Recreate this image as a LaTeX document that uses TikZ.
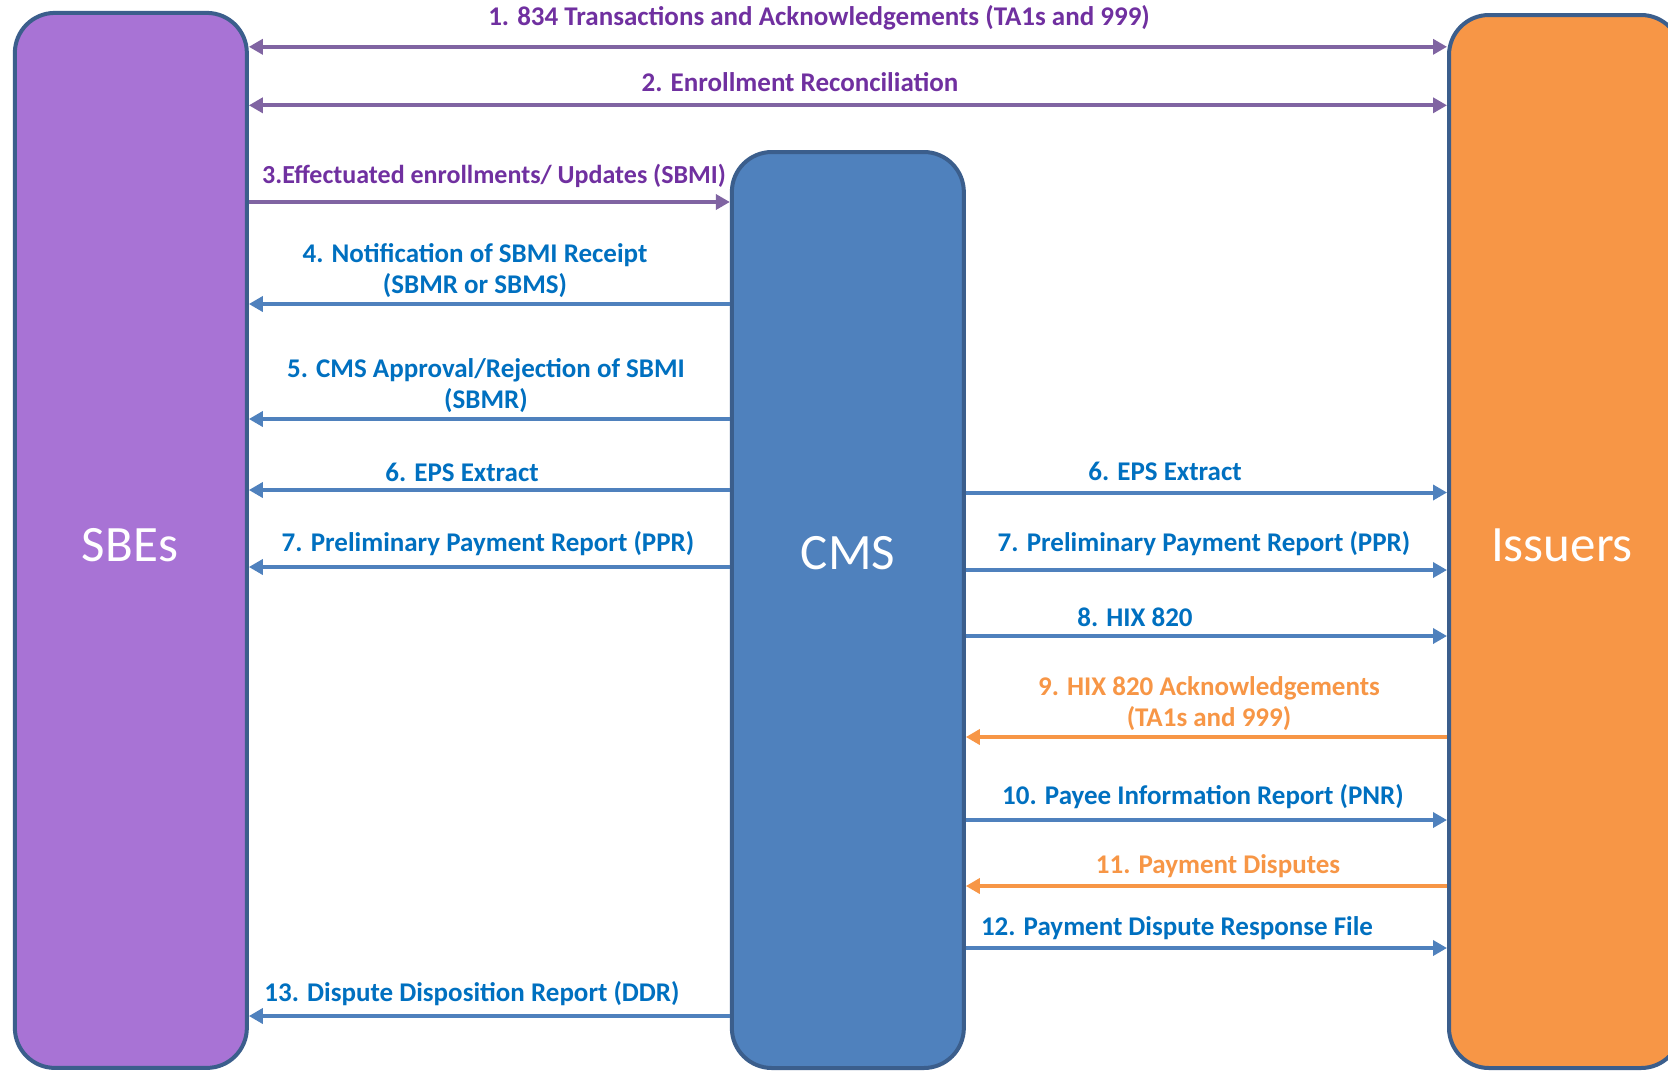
\documentclass[tikz,border=0pt]{standalone}
\usepackage{fontspec}
\setmainfont{Carlito}
\usetikzlibrary{arrows.meta}
\definecolor{sbefill}{HTML}{A873D5}
\definecolor{boxborder}{HTML}{3B5E8C}
\definecolor{cmsfill}{HTML}{4F81BD}
\definecolor{issfill}{HTML}{F79646}
\definecolor{purparrow}{HTML}{8064A2}
\definecolor{purptext}{HTML}{7030A0}
\definecolor{bluetext}{HTML}{0070C0}
\definecolor{bluearrow}{HTML}{4F81BD}
\definecolor{orangec}{HTML}{F79646}
\begin{document}
\begin{tikzpicture}[x=1pt,y=-1pt,
  box/.style={draw=boxborder,line width=4pt,rounded corners=40pt,inner sep=0pt},
  boxtext/.style={text=white,font=\fontsize{51}{57}\selectfont},
  lbl/.style={font=\bfseries\fontsize{27}{31}\selectfont,align=center,inner sep=0pt},
  arr/.style={line width=4pt,-{Triangle[length=14pt,width=15pt]}},
  darr/.style={line width=4pt,{Triangle[length=14pt,width=15pt]}-{Triangle[length=14pt,width=15pt]}},
  purp/.style={draw=purparrow},
  blu/.style={draw=bluearrow},
  ora/.style={draw=orangec}]
\useasboundingbox (0,0) rectangle (1668,1072);
\clip (0,0) rectangle (1668,1072);
\fill[white] (0,0) rectangle (1668,1072);

\node[box,fill=sbefill,minimum width=232pt,minimum height=1055pt] (sbe) at (130.85,540.4) {};
\node[box,fill=cmsfill,minimum width=232pt,minimum height=916pt] (cms) at (847.85,610) {};
\node[box,fill=issfill,minimum width=232pt,minimum height=1053pt] (iss) at (1565,541.5) {};

\node[boxtext] (sbet) at (130,545) {SBEs};
\node[boxtext] (cmst) at (848,553) {CMS};
\node[boxtext] (isst) at (1562,545) {Issuers};

% y levels
\foreach \n/\y in {a/46.8,b/105.3,c/202,d/304,e/419,f/490,g/492.5,h/567,i/570,j/636,k/737,l/820,m/886,n/948,o/1016}
  \coordinate (y\n) at (0,\y);

\draw[darr,purp] (sbe.east |- ya) -- (iss.west |- ya);
\draw[darr,purp] (sbe.east |- yb) -- (iss.west |- yb);
\draw[arr,purp] (sbe.east |- yc) -- (cms.west |- yc);
\draw[arr,blu] (cms.west |- yd) -- (sbe.east |- yd);
\draw[arr,blu] (cms.west |- ye) -- (sbe.east |- ye);
\draw[arr,blu] (cms.west |- yf) -- (sbe.east |- yf);
\draw[arr,blu] (cms.east |- yg) -- (iss.west |- yg);
\draw[arr,blu] (cms.west |- yh) -- (sbe.east |- yh);
\draw[arr,blu] (cms.east |- yi) -- (iss.west |- yi);
\draw[arr,blu] (cms.east |- yj) -- (iss.west |- yj);
\draw[arr,ora] (iss.west |- yk) -- (cms.east |- yk);
\draw[arr,blu] (cms.east |- yl) -- (iss.west |- yl);
\draw[arr,ora] (iss.west |- ym) -- (cms.east |- ym);
\draw[arr,blu] (cms.east |- yn) -- (iss.west |- yn);
\draw[arr,blu] (cms.west |- yo) -- (sbe.east |- yo);

\node[lbl,text=purptext] (l1) at (819,18) {1. 834 Transactions and Acknowledgements (TA1s and 999)};
\node[lbl,text=purptext] (l2) at (800,82) {2. Enrollment Reconciliation};
\node[lbl,text=purptext,font=\bfseries\fontsize{26}{31}\selectfont] (l3) at (494,175.5) {3.Effectuated enrollments/ Updates (SBMI)};
\node[lbl,text=bluetext] (l4) at (475,271) {4. Notification of SBMI Receipt\\(SBMR or SBMS)};
\node[lbl,text=bluetext] (l5) at (486,386) {5. CMS Approval/Rejection of SBMI\\(SBMR)};
\node[lbl,text=bluetext] (l6a) at (462,472) {6. EPS Extract};
\node[lbl,text=bluetext] (l6b) at (1165,471) {6. EPS Extract};
\node[lbl,text=bluetext] (l7a) at (488,543.6) {7. Preliminary Payment Report (PPR)};
\node[lbl,text=bluetext] (l7b) at (1204,543.6) {7. Preliminary Payment Report (PPR)};
\node[lbl,text=bluetext] (l8) at (1135,617) {8. HIX 820};
\node[lbl,text=orangec] (l9) at (1209,703.5) {9. HIX 820 Acknowledgements\\(TA1s and 999)};
\node[lbl,text=bluetext] (l10) at (1203,797) {10. Payee Information Report (PNR)};
\node[lbl,text=orangec] (l11) at (1218,866) {11. Payment Disputes};
\node[lbl,text=bluetext] (l12) at (1177,928) {12. Payment Dispute Response File};
\node[lbl,text=bluetext] (l13) at (472,993.6) {13. Dispute Disposition Report (DDR)};
\end{tikzpicture}
\end{document}
